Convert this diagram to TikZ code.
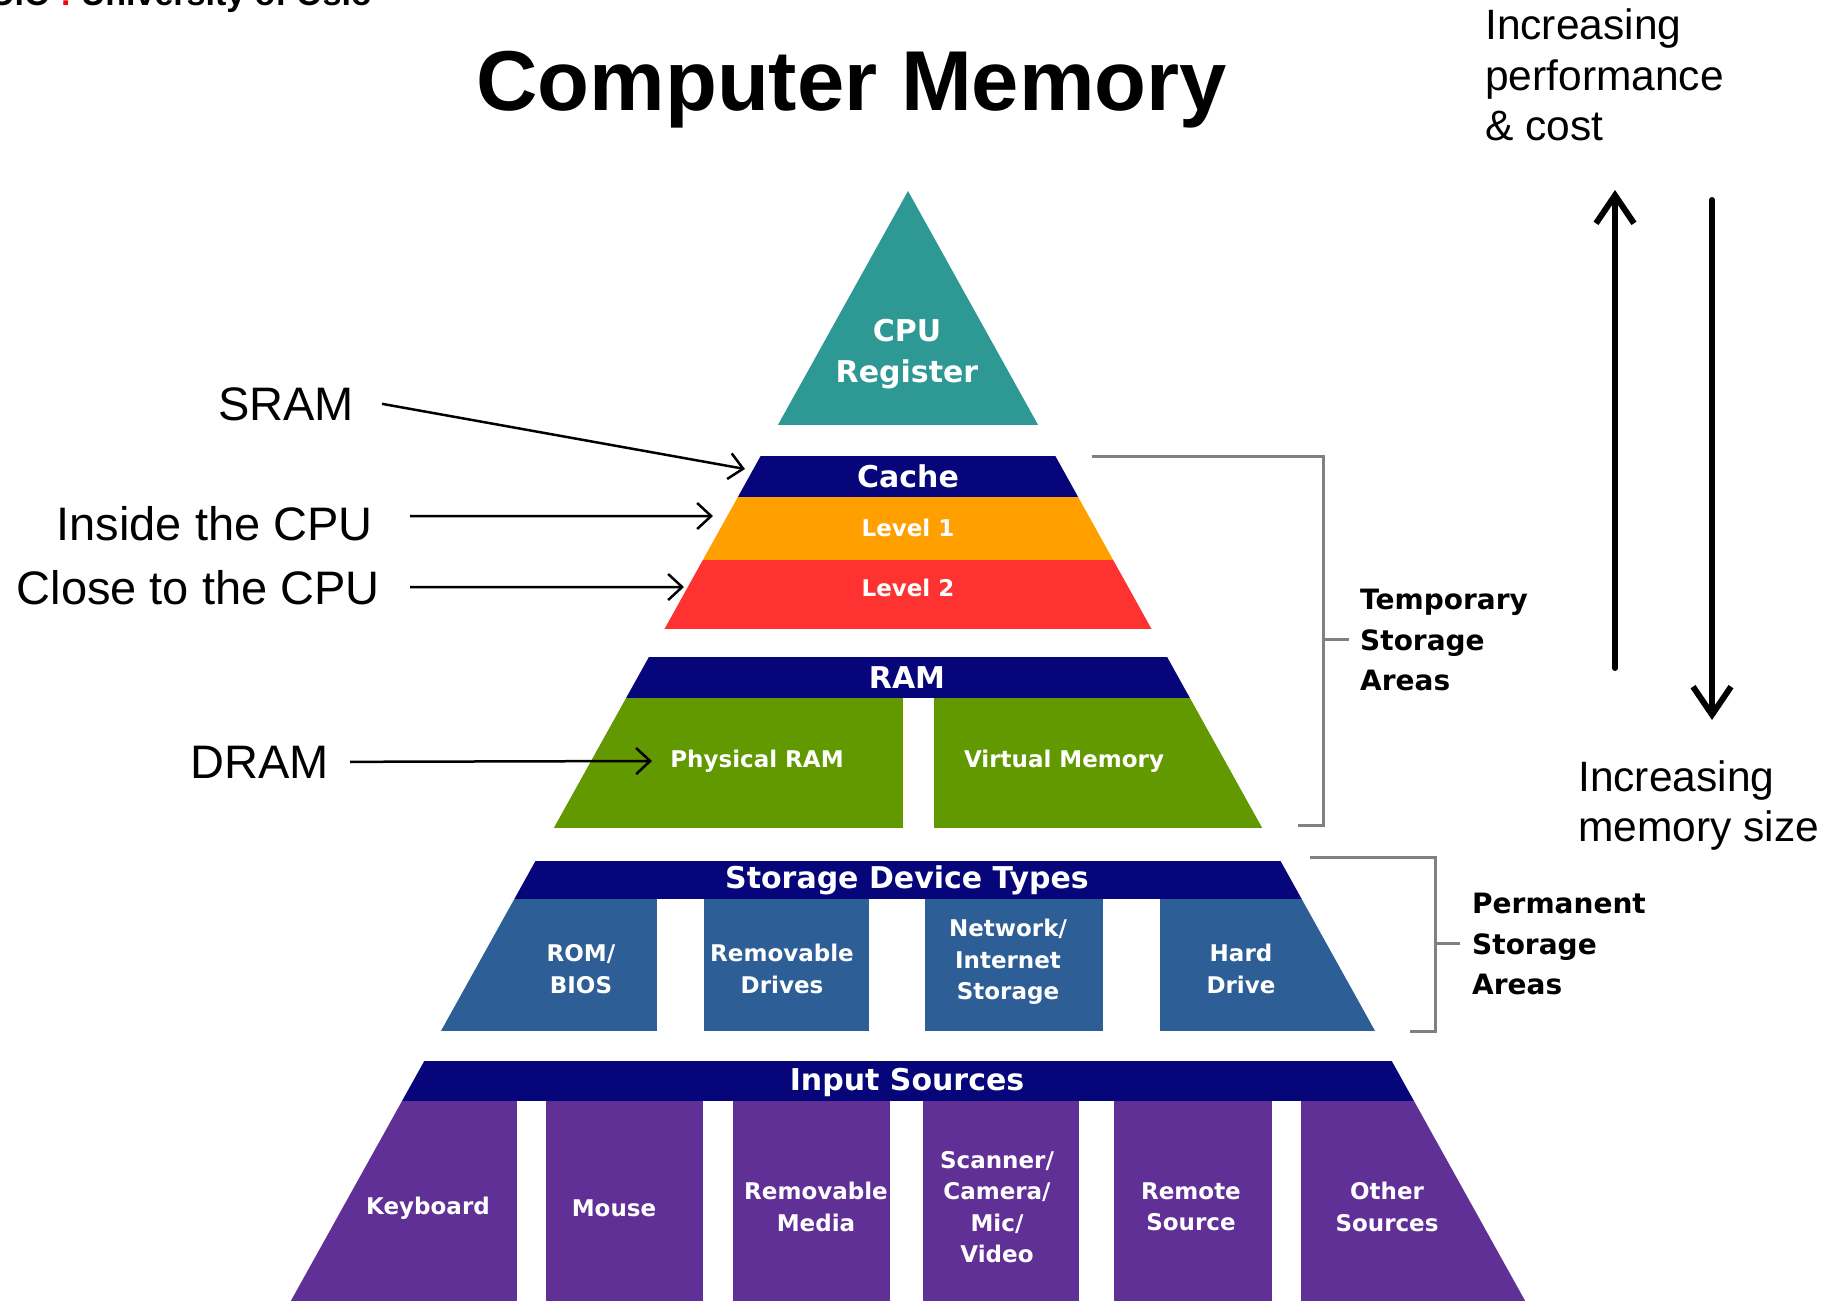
\documentclass[tikz,border=0pt]{standalone}
\usepackage{fontspec}
\setmainfont{Liberation Sans}
\newfontfamily\pixfont{DejaVu Sans}
\usetikzlibrary{arrows.meta}
\definecolor{cputeal}{RGB}{46,153,148}
\definecolor{hdrnavy}{RGB}{6,6,122}
\definecolor{lvlorange}{RGB}{255,160,0}
\definecolor{lvlred}{RGB}{255,50,50}
\definecolor{ramgreen}{RGB}{98,152,0}
\definecolor{stblue}{RGB}{46,94,150}
\definecolor{inpurple}{RGB}{96,48,150}
\definecolor{brgray}{RGB}{128,128,128}
\begin{document}
\begin{tikzpicture}[x=1pt,y=-1pt,
  lbl/.style={font=\fontsize{47}{56}\selectfont, inner sep=0pt, anchor=base east},
  bandtxt/.style={text=white, font={\pixfont\bfseries\fontsize{30}{36}\selectfont}, inner sep=0pt},
  boxtxt/.style={text=white, align=center, font={\pixfont\bfseries\fontsize{23}{31.5}\selectfont}, inner sep=0pt},
  sidetxt/.style={align=left, anchor=west, font={\pixfont\bfseries\fontsize{28}{40.5}\selectfont}, inner sep=0pt},
  notetxt/.style={align=left, anchor=north west, font={\fontsize{42.5}{50.5}\selectfont}, inner sep=0pt},
  larrow/.style={-{Straight Barb[length=14pt,width=26pt]}, line width=2.5pt},
  bigarrow/.style={-{Straight Barb[length=28pt,width=38pt]}, line width=6pt, line cap=round},
  bracket/.style={draw=brgray, line width=3pt}]
\useasboundingbox (0,0) rectangle (1831,1301);
\fill[white] (0,0) rectangle (1831,1301);

% cut-off header logo
\begin{scope}
\clip (0,0) rectangle (1831,1301);
\node[font={\bfseries\fontsize{34}{40}\selectfont}, anchor=base west, inner sep=0pt] (logo) at (-10,5) {UiO \textcolor{red}{:} University of Oslo};
\end{scope}

% title
\node[font={\bfseries\fontsize{85}{98}\selectfont}, anchor=base west, inner sep=0pt] (title) at (476,110) {Computer Memory};

% pyramid
\begin{scope}
\clip (908,191) -- (290.8,1301) -- (1525.2,1301) -- cycle;
\fill[cputeal] (280,191) rectangle (1540,425);
\fill[hdrnavy] (280,456) rectangle (1540,497);
\fill[lvlorange] (280,497) rectangle (1540,560);
\fill[lvlred] (280,560) rectangle (1540,629);
\fill[hdrnavy] (280,657) rectangle (1540,698);
\fill[ramgreen] (280,698) rectangle (903,828);
\fill[ramgreen] (934,698) rectangle (1540,828);
\fill[hdrnavy] (280,861) rectangle (1540,899);
\fill[stblue] (280,899) rectangle (657,1031);
\fill[stblue] (704,899) rectangle (869,1031);
\fill[stblue] (925,899) rectangle (1103,1031);
\fill[stblue] (1160,899) rectangle (1540,1031);
\fill[hdrnavy] (280,1061) rectangle (1540,1101);
\fill[inpurple] (280,1101) rectangle (517,1301);
\fill[inpurple] (546,1101) rectangle (703,1301);
\fill[inpurple] (733,1101) rectangle (890,1301);
\fill[inpurple] (923,1101) rectangle (1079,1301);
\fill[inpurple] (1114,1101) rectangle (1272,1301);
\fill[inpurple] (1301,1101) rectangle (1540,1301);
\end{scope}

% pyramid texts
\node[boxtxt, font={\pixfont\bfseries\fontsize{30}{41}\selectfont}] (cpu) at (907,354) {CPU\\Register};
\node[bandtxt] (cache) at (908,476) {Cache};
\node[boxtxt] (l1) at (908,528) {Level 1};
\node[boxtxt] (l2) at (908,588) {Level 2};
\node[bandtxt] (ram) at (907,678) {RAM};
\node[boxtxt] (phys) at (757,761) {Physical RAM};
\node[boxtxt] (virt) at (1064,761) {Virtual Memory};
\node[bandtxt] (sdt) at (907,880) {Storage Device Types};
\node[boxtxt] (rom) at (581,969) {ROM/\\BIOS};
\node[boxtxt] (remd) at (782,969) {Removable\\Drives};
\node[boxtxt] (net) at (1008,962) {Network/\\Internet\\Storage};
\node[boxtxt] (hard) at (1241,969) {Hard\\Drive};
\node[bandtxt] (inp) at (907,1082) {Input Sources};
\node[boxtxt] (kbd) at (428,1208) {Keyboard};
\node[boxtxt] (mouse) at (614,1208) {Mouse};
\node[boxtxt] (remm) at (816,1207) {Removable\\Media};
\node[boxtxt] (scan) at (997,1207) {Scanner/\\Camera/\\Mic/\\Video};
\node[boxtxt] (rems) at (1191,1207) {Remote\\Source};
\node[boxtxt] (oth) at (1387,1207) {Other\\Sources};

% left labels and arrows
\node[lbl] (sram) at (354,420) {SRAM};
\node[lbl] (inside) at (373,540) {Inside the CPU};
\node[lbl] (close) at (380,604) {Close to the CPU};
\node[lbl] (dram) at (329,778) {DRAM};
\coordinate (tsram) at (745,469);
\coordinate (tinside) at (713,516);
\coordinate (tclose) at (684,587);
\coordinate (tdram) at (652,761);
\draw[larrow] ([xshift=28pt]sram.east) -- (tsram);
\draw[larrow] ([xshift=37pt,yshift=7pt]inside.east) -- (tinside);
\draw[larrow] ([xshift=30pt]close.east) -- (tclose);
\draw[larrow] ([xshift=21pt]dram.east) -- (tdram);

% brackets
\node[sidetxt] (temp) at (1360,640) {Temporary\\Storage\\Areas};
\node[sidetxt] (perm) at (1472,944) {Permanent\\Storage\\Areas};
\draw[bracket] (1092,456) -- (1323,456) -- (1323,825) -- (1298,825);
\coordinate (ttick) at (1323,639);
\draw[bracket] (ttick) -- ++(26,0);
\draw[bracket] (1310,857) -- (1435,857) -- (1435,1031) -- (1410,1031);
\coordinate (ptick) at (1435,943);
\draw[bracket] (ptick) -- ++(25,0);

% right notes and arrows
\node[notetxt] (perf) at (1485,9) {Increasing\\performance\\\& cost};
\node[notetxt] (msize) at (1578,760) {Increasing\\memory size};
\coordinate (upS) at (1615,668);
\coordinate (upE) at (1615,190);
\coordinate (dnS) at (1712,200);
\coordinate (dnE) at (1712,720);
\draw[bigarrow] (upS) -- (upE);
\draw[bigarrow] (dnS) -- (dnE);
\end{tikzpicture}
\end{document}
